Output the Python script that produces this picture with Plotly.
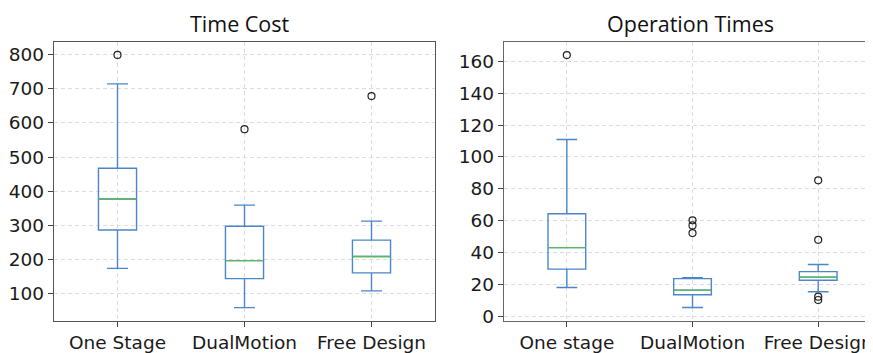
import plotly.graph_objects as go

# ---- data ----
categories_left = ["One Stage", "DualMotion", "Free Design"]
cost_lowerfence = [173, 58, 107]
cost_q1 = [286, 143, 160]
cost_median = [377, 196, 208]
cost_q3 = [467, 297, 256]
cost_upperfence = [715, 359, 312]
cost_outliers = [[800], [582], [679]]

categories_right = ["One stage", "DualMotion", "Free Design"]
ops_lowerfence = [18, 5.5, 15.4]
ops_q1 = [29.6, 13.5, 22.6]
ops_median = [43.1, 16.4, 24.5]
ops_q3 = [64.3, 23.6, 28]
ops_upperfence = [111, 24.2, 32.5]
ops_outliers = [[164], [60.2, 57, 52.2], [85.3, 48, 12.3, 10.2]]

yticks_left = [100, 200, 300, 400, 500, 600, 700, 800]
yticks_right = [0, 20, 40, 60, 80, 100, 120, 140, 160]

BOX_COLOR = "#4a86c8"
MED_COLOR = "#5cb85c"
OFF = 8  # page body margin
W, H = 873 - OFF, 353 - OFF

fig = go.Figure()

def add_panel(cats, lf, q1, med, q3, uf, outs, xa, ya):
    fig.add_trace(go.Box(
        x=cats, q1=q1, median=med, q3=q3, lowerfence=lf, upperfence=uf,
        line=dict(color=BOX_COLOR, width=1.4), fillcolor="rgba(0,0,0,0)",
        width=0.3, whiskerwidth=0.55, xaxis=xa, yaxis=ya, showlegend=False,
        hoverinfo="skip"))
    fig.add_trace(go.Box(
        x=cats, q1=med, median=med, q3=med, lowerfence=med, upperfence=med,
        line=dict(color=MED_COLOR, width=1.4), fillcolor="rgba(0,0,0,0)",
        width=0.3, whiskerwidth=0.5, xaxis=xa, yaxis=ya, showlegend=False,
        hoverinfo="skip"))
    ox, oy = [], []
    for c, vals in zip(cats, outs):
        for v in vals:
            ox.append(c)
            oy.append(v)
    fig.add_trace(go.Scatter(
        x=ox, y=oy, mode="markers", xaxis=xa, yaxis=ya, showlegend=False,
        marker=dict(symbol="circle-open", size=7, color="#222222",
                    line=dict(width=1.2))))

add_panel(categories_left, cost_lowerfence, cost_q1, cost_median, cost_q3,
          cost_upperfence, cost_outliers, "x", "y")
add_panel(categories_right, ops_lowerfence, ops_q1, ops_median, ops_q3,
          ops_upperfence, ops_outliers, "x2", "y2")

tickfont = dict(family="DejaVu Sans", size=18.5, color="#1a1a1a")
ydom = [(H - (327 - OFF)) / H, (H - (43 - OFF)) / H]
grid = dict(showgrid=True, gridcolor="#dcdcdc", griddash="4px,3px", gridwidth=1)

common_x = dict(type="category", ticks="outside", ticklen=5, tickcolor="#444",
                tickfont=tickfont, showline=True, linewidth=1.3, zeroline=False,
                **grid)
common_y = dict(ticks="outside", ticklen=5, tickcolor="#444", tickfont=tickfont,
                showline=True, linewidth=1.3, zeroline=False, **grid)

def px(x):
    return (x - OFF) / W

title_font = dict(family="Open Sans", size=21.5, color="#111")

fig.update_layout(
    width=W, height=H,
    margin=dict(l=0, r=0, t=0, b=0),
    paper_bgcolor="white", plot_bgcolor="white",
    boxmode="overlay",
    xaxis=dict(domain=[px(54), px(435)], range=[-0.5, 2.5], linecolor="#555",
               mirror=True, anchor="y", **common_x),
    yaxis=dict(domain=ydom, range=[20, 837], tickvals=yticks_left,
               linecolor="#555", mirror=True, anchor="x", **common_y),
    xaxis2=dict(domain=[px(504), 1.0], range=[-0.5, 2.436], linecolor="#666",
                mirror=True, anchor="y2", **common_x),
    yaxis2=dict(domain=ydom, range=[-2.7, 172], tickvals=yticks_right,
                linecolor="#666", mirror=False, anchor="x2", **common_y),
    annotations=[
        dict(text="Time Cost", x=px(240), y=1.0, xref="paper",
             yref="paper", showarrow=False, xanchor="center", yanchor="top",
             borderpad=0, font=title_font),
        dict(text="Operation Times", x=px(690), y=1.0,
             xref="paper", yref="paper", showarrow=False, xanchor="center",
             yanchor="top", borderpad=0, font=title_font),
    ],
)

fig.write_html("out.html")
